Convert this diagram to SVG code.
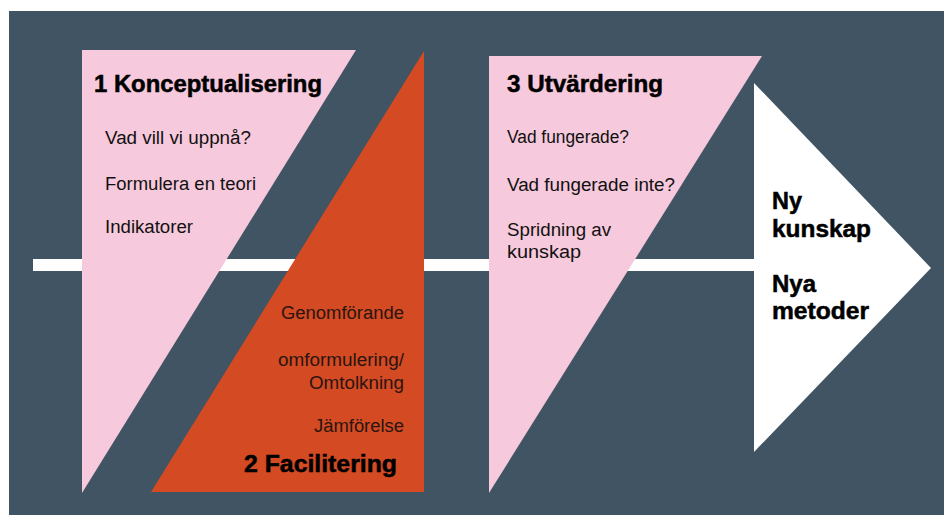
<svg xmlns="http://www.w3.org/2000/svg" width="944" height="515" viewBox="0 0 944 515">
<style>
.bg{fill:#415463}
.pink{fill:#f7c9dc}
.orange{fill:#d34a23}
.white{fill:#ffffff}
text{font-family:"Liberation Sans",Arial,sans-serif}
.title{font-weight:bold;font-size:23px;fill:#000;stroke:#000;stroke-width:0.5}
.body{font-size:18px;fill:#111}
.obody{font-size:18px;fill:#2a1510;text-anchor:end}
.otitle{font-weight:bold;font-size:23px;fill:#000;stroke:#000;stroke-width:0.5;text-anchor:end}
.res{font-weight:bold;font-size:23px;fill:#000;stroke:#000;stroke-width:0.5}
</style>
<rect class="bg" x="9" y="11" width="935" height="504"/>
<g id="connectors">
<rect class="white" x="33" y="259" width="722" height="12"/>
</g>
<g id="node1">
<polygon class="pink" points="82,50 356,50 82,493"/>
<text class="title" x="94" y="92" textLength="228" lengthAdjust="spacingAndGlyphs">1 Konceptualisering</text>
<text class="body" x="105" y="144" textLength="146" lengthAdjust="spacingAndGlyphs">Vad vill vi uppnå?</text>
<text class="body" x="105" y="190" textLength="151" lengthAdjust="spacingAndGlyphs">Formulera en teori</text>
<text class="body" x="105" y="233" textLength="88" lengthAdjust="spacingAndGlyphs">Indikatorer</text>
</g>
<g id="node2">
<polygon class="orange" points="424,51 424,492 151,492"/>
<text class="obody" x="404" y="319" textLength="123" lengthAdjust="spacingAndGlyphs">Genomförande</text>
<text class="obody" x="404" y="366" textLength="126" lengthAdjust="spacingAndGlyphs">omformulering/</text>
<text class="obody" x="404" y="389" textLength="95" lengthAdjust="spacingAndGlyphs">Omtolkning</text>
<text class="obody" x="404" y="432" textLength="90" lengthAdjust="spacingAndGlyphs">Jämförelse</text>
<text class="otitle" x="397" y="472" textLength="153" lengthAdjust="spacingAndGlyphs">2 Facilitering</text>
</g>
<g id="node3">
<polygon class="pink" points="489,56 762,56 489,493"/>
<text class="title" x="507" y="92" textLength="156" lengthAdjust="spacingAndGlyphs">3 Utvärdering</text>
<text class="body" x="507" y="143" textLength="122" lengthAdjust="spacingAndGlyphs">Vad fungerade?</text>
<text class="body" x="507" y="191" textLength="168" lengthAdjust="spacingAndGlyphs">Vad fungerade inte?</text>
<text class="body" x="507" y="236" textLength="104" lengthAdjust="spacingAndGlyphs">Spridning av</text>
<text class="body" x="507" y="258" textLength="74" lengthAdjust="spacingAndGlyphs">kunskap</text>
</g>
<g id="result">
<polygon class="white" points="754,83 931,268 754,452"/>
<text class="res" x="772" y="209" textLength="30" lengthAdjust="spacingAndGlyphs">Ny</text>
<text class="res" x="772" y="237" textLength="99" lengthAdjust="spacingAndGlyphs">kunskap</text>
<text class="res" x="772" y="292" textLength="44" lengthAdjust="spacingAndGlyphs">Nya</text>
<text class="res" x="772" y="319" textLength="97" lengthAdjust="spacingAndGlyphs">metoder</text>
</g>
</svg>
